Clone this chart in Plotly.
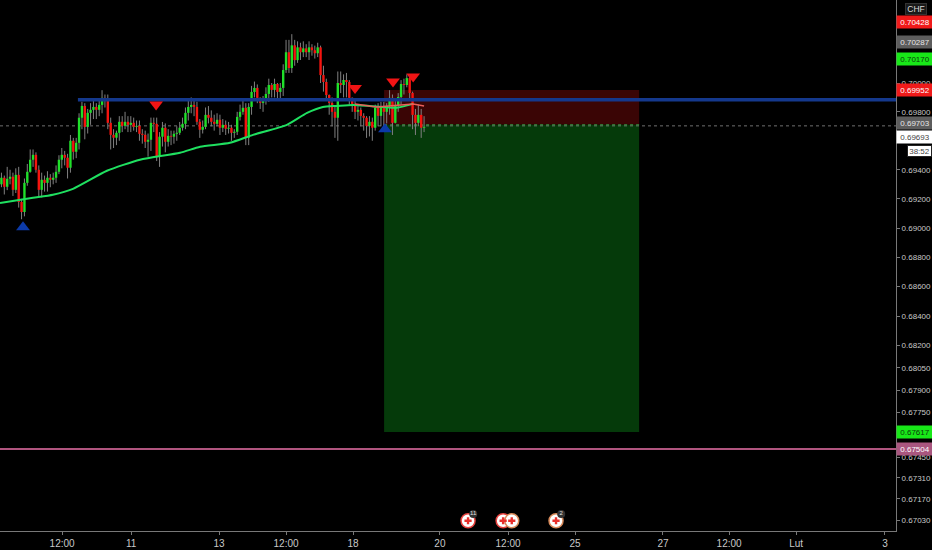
import numpy as np
import plotly.graph_objects as go

first_open = 0.69300
closes = [.69345,.69283,.69338,.69352,.69262,.69365,.69179,.69110,.69310,.69386,.69469,.69503,.69400,.69262,.69331,.69310,.69345,.69331,.69345,.69386,
.69469,.69503,.69483,.69414,.69600,.69524,.69586,.69759,.69841,.69696,.69793,.69814,.69834,.69814,.69848,.69897,.69883,.69724,.69641,.69621,
.69655,.69731,.69703,.69731,.69710,.69724,.69696,.69703,.69648,.69641,.69593,.69607,.69724,.69717,.69490,.69628,.69690,.69593,.69634,.69628,
.69648,.69655,.69690,.69717,.69793,.69834,.69848,.69834,.69731,.69676,.69696,.69779,.69759,.69731,.69717,.69745,.69690,.69710,.69683,.69690,
.69655,.69662,.69765,.69800,.69828,.69621,.69834,.69938,.69966,.69897,.69862,.69883,.69924,.69986,.69952,.69993,.69938,.69966,.70090,.70214,
.70104,.70262,.70159,.70248,.70214,.70241,.70214,.70248,.70228,.70207,.70248,.70055,.70007,.69917,.69862,.69800,.69759,.70000,.69986,.70021,
.70007,.69897,.69855,.69800,.69814,.69772,.69759,.69703,.69731,.69690,.69828,.69772,.69834,.69800,.69841,.69897,.69724,.69848,.69903,.69993,
.69986,.70034,.69931,.69779,.69724,.69779,.69690,.69696]
highs = [.6938,.6936,.6942,.6940,.6938,.6941,.6942,.6920,.6934,.6944,.6954,.6954,.6952,.6943,.6938,.6936,.6939,.6937,.6938,.6943,
.6950,.6955,.6953,.6951,.6964,.6962,.6962,.6979,.6987,.6986,.6982,.6986,.6989,.6986,.6989,.6995,.6992,.6992,.6976,.6968,
.6967,.6977,.6977,.6980,.6977,.6977,.6976,.6974,.6974,.6968,.6967,.6965,.6976,.6976,.6976,.6966,.6973,.6972,.6968,.6967,
.6967,.6970,.6973,.6976,.6983,.6988,.6990,.6989,.6987,.6975,.6974,.6983,.6984,.6981,.6978,.6979,.6978,.6975,.6974,.6973,
.6971,.6968,.6980,.6985,.6988,.6986,.6986,.6998,.7001,.6999,.6990,.6991,.6997,.7003,.7000,.7003,.7000,.7000,.7013,.7030,
.7030,.7034,.7030,.7029,.7028,.7029,.7027,.7029,.7027,.7026,.7028,.7026,.7012,.7003,.6992,.6990,.6984,.7008,.7008,.7006,
.7007,.7002,.6990,.6988,.6984,.6983,.6979,.6977,.6977,.6976,.6985,.6986,.6987,.6987,.6986,.6995,.6992,.6988,.6993,.7002,
.7003,.7006,.7006,.6994,.6982,.6985,.6982,.6977]
lows = [.6928,.6923,.6926,.6930,.6922,.6924,.6914,.6906,.6908,.6929,.6938,.6942,.6938,.6921,.6921,.6925,.6925,.6928,.6930,.6931,
.6937,.6941,.6943,.6934,.6938,.6947,.6948,.6954,.6968,.6961,.6965,.6971,.6975,.6975,.6977,.6979,.6983,.6968,.6954,.6955,
.6957,.6960,.6966,.6968,.6966,.6966,.6967,.6966,.6960,.6958,.6955,.6949,.6953,.6966,.6946,.6942,.6956,.6952,.6956,.6957,
.6958,.6960,.6964,.6967,.6968,.6974,.6979,.6977,.6971,.6962,.6965,.6968,.6972,.6970,.6967,.6970,.6964,.6966,.6964,.6965,
.6960,.6962,.6964,.6974,.6978,.6957,.6957,.6978,.6990,.6986,.6982,.6980,.6985,.6987,.6990,.6990,.6988,.6989,.6991,.7007,
.7007,.7007,.7012,.7014,.7016,.7018,.7018,.7016,.7019,.7017,.7018,.7000,.6994,.6988,.6978,.6970,.6962,.6960,.6993,.6990,
.6990,.6985,.6980,.6975,.6974,.6970,.6967,.6962,.6963,.6960,.6967,.6970,.6970,.6970,.6972,.6978,.6964,.6972,.6980,.6985,
.6992,.6997,.6989,.6968,.6964,.6970,.6962,.6966]

ema_bars = [0, 11.5, 18.4, 25.4, 37.2, 48.7, 62.6, 69.6, 80, 88, 99.8, 106.8, 112.3, 117.2, 122.8, 133.2, 138, 143.7]
ema_vals = [.69172,.69207,.69228,.69269,.69393,.69469,.69517,.69559,.69586,.69641,.69710,.69793,.69834,.69841,.69848,.69834,.69828,.69855]
fast_bars = [123.5, 131, 143.7, 147.5]
fast_vals = [.69855,.69834,.69855,.69841]

resistance = 0.69883
support = 0.67504
last_seen = 0.69703
trade_top = 0.69952
trade_mid = 0.69710
trade_bottom = 0.67617
trade_start, trade_end = 133.6, 222.3
resistance_start = 27.1
x_end = 311.65

up_x, up_y = [8, 133.9], [0.69005, 0.69680]
down_x, down_y = [54.3, 123.5, 136.7, 143.7], [0.69850, 0.69965, 0.70010, 0.70045]

tick_x = [21.6, 45.6, 76.2, 99.5, 122.8, 153, 176.7, 200, 230.6, 253.6, 276.9, 307.8]
tick_x_text = ["12:00", "11", "13", "12:00", "18", "20", "12:00", "25", "27", "12:00", "Lut", "3"]
tick_y = [.70000,.69800,.69400,.69200,.69000,.68800,.68600,.68400,.68200,.68050,.67900,.67750,.67450,.67310,.67170,.67030]

strips = [(0.69775, 0.69750, "#f01a1a"), (0.69590, 0.69510, "#18e818")]
price_tags = [
    (0.70428, "0.70428", "#f01a1a", "#ffffff"),
    (0.70287, "0.70287", "#5d5d5d", "#e6e6e6"),
    (0.70170, "0.70170", "#18e818", "#0b3a0b"),
    (0.69952, "0.69952", "#f01a1a", "#ffffff"),
    (0.69720, "0.69703", "#5d5d5d", "#e6e6e6"),
    (0.69625, "0.69693", "#ffffff", "#444444"),
    (0.67617, "0.67617", "#18e818", "#0b3a0b"),
    (0.67504, "0.67504", "#a9567f", "#ffffff"),
]
countdown_price = 0.69531
event_x = [162.8, 175, 178, 193.4]
event_ring = ["#e8433f", "#e8433f", "#d98a5a", "#d98a5a"]
event_y = 0.67025
badge_x, badge_y, badge_text = [164.6, 195.2], [0.6707, 0.6707], ["11", "2"]

opens = [first_open] + closes[:-1]
bars = np.arange(len(closes), dtype=float) + 0.5


def segments(indices, lo, hi):
    xs, ys = [], []
    for i in indices:
        xs += [bars[i], bars[i], None]
        ys += [lo[i], hi[i], None]
    return xs, ys


n = range(len(closes))
rising = [i for i in n if closes[i] >= opens[i]]
falling = [i for i in n if closes[i] < opens[i]]

fig = go.Figure()
fig.add_trace(go.Scatter(x=[trade_start, trade_end, trade_end, trade_start, trade_start],
                         y=[trade_top, trade_top, trade_mid, trade_mid, trade_top], fill="toself",
                         fillcolor="#3a0505", line=dict(width=0), mode="lines", hoverinfo="skip"))
fig.add_trace(go.Scatter(x=[trade_start, trade_end, trade_end, trade_start, trade_start],
                         y=[trade_mid, trade_mid, trade_bottom, trade_bottom, trade_mid], fill="toself",
                         fillcolor="#053a0a", line=dict(width=0), mode="lines", hoverinfo="skip"))
fig.add_trace(go.Scatter(x=[0, x_end], y=[last_seen, last_seen], mode="lines",
                         line=dict(color="#707070", width=1, dash="dot")))
fig.add_trace(go.Scatter(x=[trade_start, trade_end], y=[trade_mid, trade_mid], mode="lines",
                         line=dict(color="#3fa04a", width=1, dash="dot")))
x, y = segments(n, lows, highs)
fig.add_trace(go.Scatter(x=x, y=y, mode="lines", line=dict(color="#808080", width=1)))
x, y = segments(rising, opens, closes)
fig.add_trace(go.Scatter(x=x, y=y, mode="lines", line=dict(color="#1fe02a", width=2.4)))
x, y = segments(falling, opens, closes)
fig.add_trace(go.Scatter(x=x, y=y, mode="lines", line=dict(color="#f5140f", width=2.4)))
fig.add_trace(go.Scatter(x=ema_bars, y=ema_vals, mode="lines",
                         line=dict(color="#1fe060", width=2, shape="spline", smoothing=0.6)))
fig.add_trace(go.Scatter(x=fast_bars, y=fast_vals, mode="lines",
                         line=dict(color="#e8605a", width=1.5)))
fig.add_trace(go.Scatter(x=[resistance_start, x_end], y=[resistance, resistance], mode="lines",
                         line=dict(color="#14388c", width=3.5)))
fig.add_trace(go.Scatter(x=[0, x_end], y=[support, support], mode="lines",
                         line=dict(color="#b0557f", width=2)))
fig.add_trace(go.Scatter(x=up_x, y=up_y, mode="markers",
                         marker=dict(symbol="triangle-up", size=12, color="#0c3aa8")))
fig.add_trace(go.Scatter(x=down_x, y=down_y, mode="markers",
                         marker=dict(symbol="triangle-down", size=12, color="#f01414")))
fig.add_trace(go.Scatter(x=event_x, y=[event_y] * len(event_x), mode="markers",
                         marker=dict(symbol="circle", size=14, color="#ffffff",
                                     line=dict(color=event_ring, width=1.5))))
fig.add_trace(go.Scatter(x=event_x, y=[event_y] * len(event_x), mode="markers",
                         marker=dict(symbol="cross", size=6, color="#e8302c")))
fig.add_trace(go.Scatter(x=badge_x, y=badge_y, mode="markers+text", text=badge_text,
                         textposition="middle center", textfont=dict(size=6, color="#e0e0e0"),
                         marker=dict(symbol="circle", size=8, color="#333333")))

font = "Liberation Sans"
annotations = []
for value, label, bg, fg in price_tags:
    annotations.append(dict(xref="paper", x=1.0, xanchor="left", yref="y", y=float(np.log10(value)), yanchor="middle",
                            text=label, showarrow=False, bgcolor=bg, borderpad=1, width=34, height=10,
                            align="center", font=dict(family=font, size=8, color=fg)))
annotations.append(dict(xref="paper", x=1.0, xshift=11, xanchor="left", yref="y", y=float(np.log10(countdown_price)),
                        yanchor="middle", text="38:52", showarrow=False, bgcolor="#ffffff", bordercolor="#222222",
                        borderpad=0, width=23, height=10, font=dict(family=font, size=8, color="#444444")))
annotations.append(dict(xref="paper", x=1.0, xshift=9, xanchor="left", yref="paper", y=0.983, yanchor="middle",
                        text="CHF", showarrow=False, bgcolor="#1a1a1a", bordercolor="#333333",
                        borderpad=0, width=20, height=10, font=dict(family=font, size=8.5, color="#d8d8d8")))

shapes = [dict(type="rect", xref="paper", x0=1.0, x1=1.04, yref="y", y0=float(np.log10(lo)), y1=float(np.log10(hi)),
               fillcolor=c, line=dict(width=0), layer="above") for hi, lo, c in strips]

fig.update_layout(
    width=932, height=550, margin=dict(l=0, r=36, t=0, b=19, pad=0),
    paper_bgcolor="#000000", plot_bgcolor="#000000", showlegend=False, hovermode=False,
    font=dict(family=font, size=10, color="#c8c8c8"), annotations=annotations, shapes=shapes,
    xaxis=dict(range=[0, x_end], tickmode="array", tickvals=tick_x, ticktext=tick_x_text, automargin=False,
               showgrid=False, zeroline=False, showline=True, linecolor="#787878", linewidth=1,
               ticks="outside", ticklen=3, tickcolor="#787878", tickfont=dict(size=10, color="#c8c8c8")),
    yaxis=dict(type="log", side="right", automargin=False,
               range=[float(np.log10(0.7)) - 448 / 23209, float(np.log10(0.7)) + 83 / 23209],
               tickmode="array", tickvals=tick_y, ticktext=[f"{v:.5f}" for v in tick_y],
               showgrid=False, zeroline=False, showline=True, linecolor="#787878", linewidth=1,
               ticks="outside", ticklen=3, tickcolor="#787878",
               tickfont=dict(family=font, size=8, color="#c8c8c8")),
)
fig.write_html("out.html", config={"displayModeBar": False},
               post_script="document.body.style.margin='0';document.documentElement.style.background='#000';")
